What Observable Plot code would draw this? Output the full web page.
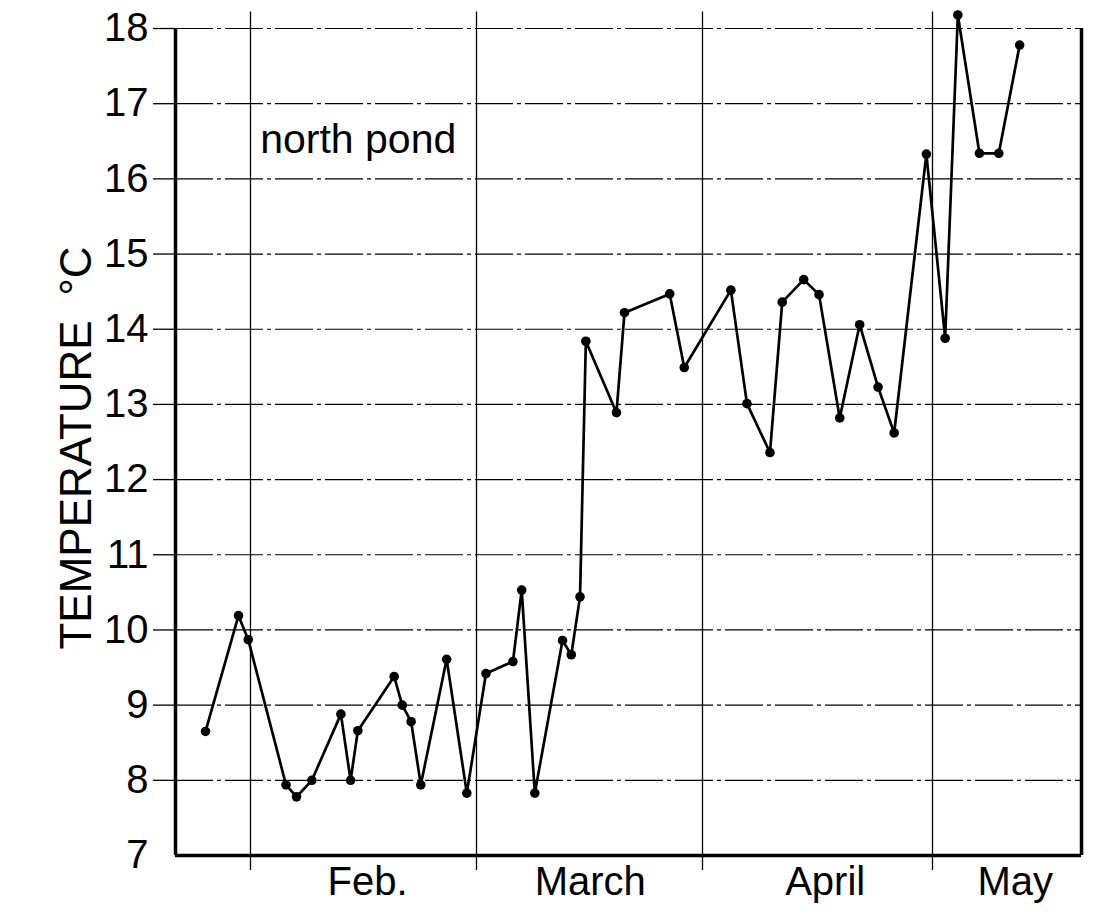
<!DOCTYPE html>
<html>
<head>
<meta charset="utf-8">
<script src="https://cdn.jsdelivr.net/npm/d3@7"></script>
<script src="https://cdn.jsdelivr.net/npm/@observablehq/plot@0.6"></script>
<style>
  body { margin: 0; background: #fff; }
</style>
</head>
<body>
<div id="chart"></div>
<script>
// Day of year (Jan 1 = 1) of each reading
const days = [26.0, 30.4, 31.7, 36.4, 37.7, 39.6, 43.2, 44.4, 45.3, 49.8,
  50.8, 51.9, 53.1, 56.3, 58.8, 61.3, 65.0, 66.2, 68.0, 71.8,
  73.0, 74.2, 75.0, 79.2, 80.3, 86.5, 88.5, 94.7, 96.8, 99.8,
  101.4, 104.2, 106.2, 108.9, 111.5, 113.9, 116.0, 120.2, 122.7, 124.4,
  127.3, 129.9, 132.7];
// Water temperature, °C
const temps = [8.65, 10.19, 9.87, 7.94, 7.78, 8.0, 8.88, 8.0, 8.66, 9.38,
  9.0, 8.78, 7.94, 9.61, 7.83, 9.42, 9.58, 10.53, 7.83, 9.86,
  9.67, 10.44, 13.84, 12.89, 14.22, 14.47, 13.49, 14.52, 13.01, 12.36,
  14.36, 14.66, 14.46, 12.82, 14.06, 13.23, 12.62, 16.33, 13.88, 18.18,
  16.34, 16.34, 17.78];

const monthLabels = ["Feb.", "March", "April", "May"];
const monthStarts = [32, 60, 91, 121];
const monthMids = [46.5, 75.6, 107, 132.1];
const yTickValues = [7, 8, 9, 10, 11, 12, 13, 14, 15, 16, 17, 18];
const gridValues = [8, 9, 10, 11, 12, 13, 14, 15, 16, 17, 18];
const seriesLabel = "north pond";
const yLabel = "TEMPERATURE\u00a0\u00a0°C";

const data = days.map((d, i) => ({day: d, temp: temps[i]}));
const months = monthLabels.map((m, i) => ({label: m, mid: monthMids[i]}));

const xStart = 22, xEnd = 141;
const font = "'Liberation Sans', Arial, sans-serif";

const chart = Plot.plot({
  width: 1093,
  height: 914,
  marginLeft: 175,
  marginRight: 12,
  marginTop: 28,
  marginBottom: 59,
  style: {fontFamily: font, background: "#fff", color: "#000"},
  x: {
    type: "linear",
    domain: [xStart, 32, 60, 91, 121, xEnd],
    range: [175, 250, 476, 702, 932, 1081],
    axis: null
  },
  y: {type: "linear", domain: [7, 18], axis: null},
  marks: [
    // horizontal grid lines (drafted dash-dot)
    Plot.gridY(gridValues, {stroke: "#000", strokeOpacity: 1, strokeWidth: 1.2, strokeDasharray: "38,4,4,4"}),
    // little extensions left of the frame
    Plot.axisY(gridValues, {anchor: "left", label: null, tickSize: 22, tickFormat: () => "", stroke: "#000", strokeWidth: 1.3}),
    // y tick labels
    Plot.axisY(yTickValues, {anchor: "left", label: null, tickSize: 0, tickPadding: 27, tickFormat: (d) => String(d), fontSize: 40, fontFamily: font, fill: "#000"}),
    // month boundary lines
    Plot.ruleX(monthStarts, {y1: 6.8, y2: 18.22, stroke: "#000", strokeWidth: 1.3}),
    // frame: left, right, bottom (heavy)
    Plot.ruleX([xStart, xEnd], {y1: 7, y2: 18, stroke: "#000", strokeWidth: 3.5}),
    Plot.ruleY([7], {x1: xStart, x2: xEnd, stroke: "#000", strokeWidth: 3.5}),
    // month labels
    Plot.text(months, {x: "mid", text: "label", frameAnchor: "bottom", lineAnchor: "top", dy: 11, fontSize: 40, fontFamily: font, fill: "#000"}),
    // y axis title
    Plot.text([yLabel], {frameAnchor: "left", dx: -99, dy: 6, rotate: -90, textAnchor: "middle", fontSize: 44, fontFamily: font, fill: "#000"}),
    // series label
    Plot.text([seriesLabel], {x: [33.2], y: [16.52], textAnchor: "start", lineAnchor: "middle", fontSize: 41, fontFamily: font, fill: "#000"}),
    // data
    Plot.line(data, {x: "day", y: "temp", stroke: "#000", strokeWidth: 2.7}),
    Plot.dot(data, {x: "day", y: "temp", r: 4.8, fill: "#000", stroke: "none"})
  ]
});
document.getElementById("chart").appendChild(chart);
</script>
</body>
</html>
